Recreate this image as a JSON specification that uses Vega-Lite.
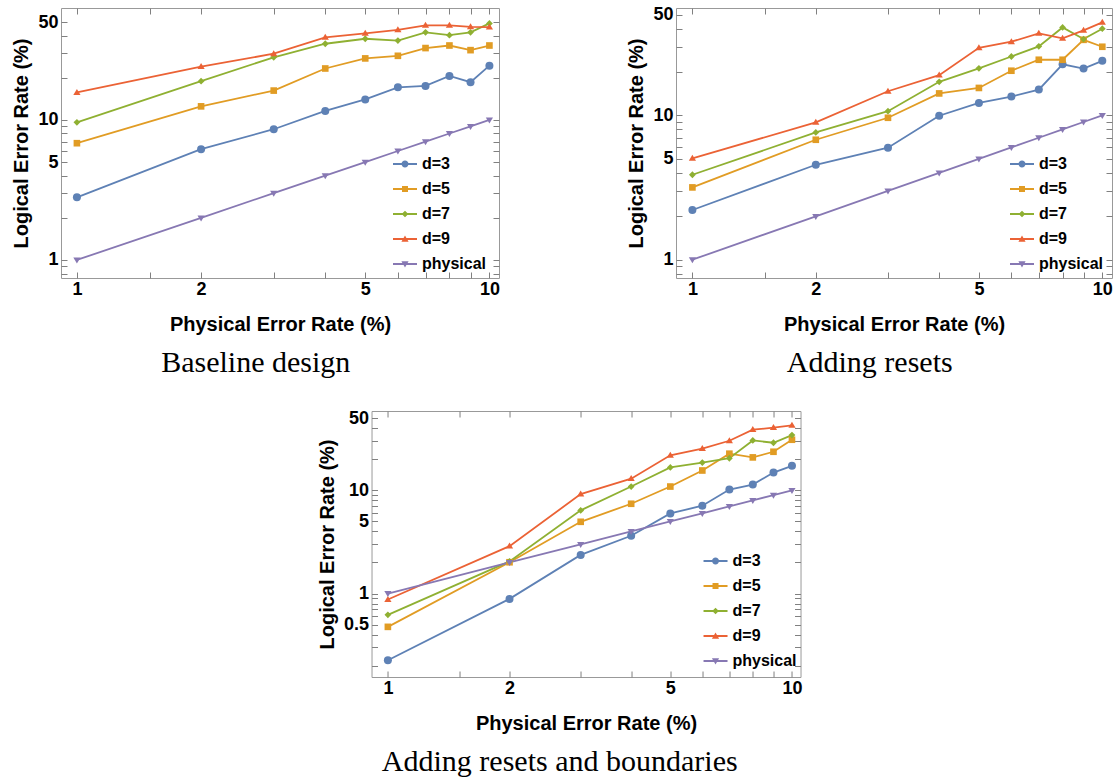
{
  "$schema": "https://vega.github.io/schema/vega-lite/v6.json",
  "background": "white",
  "padding": {"left": 11, "top": 5, "right": 5, "bottom": 0},
  "config": {
    "view": {"stroke": "#999999", "strokeWidth": 1},
    "axis": {"domain": false, "grid": false, "labelFont": "Liberation Sans", "labelFontWeight": "bold", "labelFontSize": 18, "labelColor": "#000000", "titleFont": "Liberation Sans", "titleFontWeight": "bold", "titleFontSize": 20, "titleColor": "#000000", "tickColor": "#808080", "tickWidth": 1, "tickSize": -6, "labelOverlap": false, "labelFlush": false},
    "legend": {"title": null, "orient": "none", "padding": 0, "labelFont": "Liberation Sans", "labelFontWeight": "bold", "labelFontSize": 16, "labelColor": "#000000", "symbolSize": 576, "labelOffset": 5, "rowPadding": 5},
    "title": {"orient": "bottom", "font": "Liberation Serif", "fontSize": 30, "fontWeight": "normal", "color": "#000000", "offset": 14, "anchor": "middle", "frame": "bounds"}
  },
  "datasets": {
    "p1": [
      {"p":1,"s":"d=3","v":2.8},{"p":2,"s":"d=3","v":6.18},{"p":3,"s":"d=3","v":8.58},{"p":4,"s":"d=3","v":11.6},{"p":5,"s":"d=3","v":14.0},{"p":6,"s":"d=3","v":17.1},{"p":7,"s":"d=3","v":17.5},{"p":8,"s":"d=3","v":20.6},{"p":9,"s":"d=3","v":18.6},{"p":10,"s":"d=3","v":24.4},
      {"p":1,"s":"d=5","v":6.82},{"p":2,"s":"d=5","v":12.5},{"p":3,"s":"d=5","v":16.2},{"p":4,"s":"d=5","v":23.3},{"p":5,"s":"d=5","v":27.5},{"p":6,"s":"d=5","v":28.7},{"p":7,"s":"d=5","v":32.6},{"p":8,"s":"d=5","v":34.0},{"p":9,"s":"d=5","v":31.5},{"p":10,"s":"d=5","v":34.0},
      {"p":1,"s":"d=7","v":9.62},{"p":2,"s":"d=7","v":18.9},{"p":3,"s":"d=7","v":28.0},{"p":4,"s":"d=7","v":35.0},{"p":5,"s":"d=7","v":38.0},{"p":6,"s":"d=7","v":36.9},{"p":7,"s":"d=7","v":42.2},{"p":8,"s":"d=7","v":40.3},{"p":9,"s":"d=7","v":42.2},{"p":10,"s":"d=7","v":48.9},
      {"p":1,"s":"d=9","v":15.7},{"p":2,"s":"d=9","v":24.0},{"p":3,"s":"d=9","v":29.7},{"p":4,"s":"d=9","v":38.8},{"p":5,"s":"d=9","v":41.5},{"p":6,"s":"d=9","v":44.0},{"p":7,"s":"d=9","v":47.3},{"p":8,"s":"d=9","v":47.3},{"p":9,"s":"d=9","v":46.2},{"p":10,"s":"d=9","v":46.0},
      {"p":1,"s":"physical","v":1},{"p":2,"s":"physical","v":2},{"p":3,"s":"physical","v":3},{"p":4,"s":"physical","v":4},{"p":5,"s":"physical","v":5},{"p":6,"s":"physical","v":6},{"p":7,"s":"physical","v":7},{"p":8,"s":"physical","v":8},{"p":9,"s":"physical","v":9},{"p":10,"s":"physical","v":10}
    ],
    "p2": [
      {"p":1,"s":"d=3","v":2.21},{"p":2,"s":"d=3","v":4.55},{"p":3,"s":"d=3","v":5.97},{"p":4,"s":"d=3","v":9.95},{"p":5,"s":"d=3","v":12.2},{"p":6,"s":"d=3","v":13.5},{"p":7,"s":"d=3","v":15.1},{"p":8,"s":"d=3","v":22.6},{"p":9,"s":"d=3","v":21.1},{"p":10,"s":"d=3","v":23.9},
      {"p":1,"s":"d=5","v":3.17},{"p":2,"s":"d=5","v":6.78},{"p":3,"s":"d=5","v":9.63},{"p":4,"s":"d=5","v":14.2},{"p":5,"s":"d=5","v":15.5},{"p":6,"s":"d=5","v":20.4},{"p":7,"s":"d=5","v":24.3},{"p":8,"s":"d=5","v":24.3},{"p":9,"s":"d=5","v":33.4},{"p":10,"s":"d=5","v":29.9},
      {"p":1,"s":"d=7","v":3.88},{"p":2,"s":"d=7","v":7.62},{"p":3,"s":"d=7","v":10.7},{"p":4,"s":"d=7","v":17.1},{"p":5,"s":"d=7","v":21.2},{"p":6,"s":"d=7","v":25.6},{"p":7,"s":"d=7","v":30.1},{"p":8,"s":"d=7","v":40.7},{"p":9,"s":"d=7","v":33.8},{"p":10,"s":"d=7","v":39.9},
      {"p":1,"s":"d=9","v":5.04},{"p":2,"s":"d=9","v":8.94},{"p":3,"s":"d=9","v":14.7},{"p":4,"s":"d=9","v":19.0},{"p":5,"s":"d=9","v":29.4},{"p":6,"s":"d=9","v":32.4},{"p":7,"s":"d=9","v":37.0},{"p":8,"s":"d=9","v":34.2},{"p":9,"s":"d=9","v":38.8},{"p":10,"s":"d=9","v":44.1},
      {"p":1,"s":"physical","v":1},{"p":2,"s":"physical","v":2},{"p":3,"s":"physical","v":3},{"p":4,"s":"physical","v":4},{"p":5,"s":"physical","v":5},{"p":6,"s":"physical","v":6},{"p":7,"s":"physical","v":7},{"p":8,"s":"physical","v":8},{"p":9,"s":"physical","v":9},{"p":10,"s":"physical","v":10}
    ],
    "p3": [
      {"p":1,"s":"d=3","v":0.225},{"p":2,"s":"d=3","v":0.887},{"p":3,"s":"d=3","v":2.37},{"p":4,"s":"d=3","v":3.63},{"p":5,"s":"d=3","v":5.98},{"p":6,"s":"d=3","v":7.10},{"p":7,"s":"d=3","v":10.2},{"p":8,"s":"d=3","v":11.4},{"p":9,"s":"d=3","v":14.9},{"p":10,"s":"d=3","v":17.3},
      {"p":1,"s":"d=5","v":0.475},{"p":2,"s":"d=5","v":2.01},{"p":3,"s":"d=5","v":4.96},{"p":4,"s":"d=5","v":7.42},{"p":5,"s":"d=5","v":10.9},{"p":6,"s":"d=5","v":15.6},{"p":7,"s":"d=5","v":22.7},{"p":8,"s":"d=5","v":20.9},{"p":9,"s":"d=5","v":23.7},{"p":10,"s":"d=5","v":31.0},
      {"p":1,"s":"d=7","v":0.621},{"p":2,"s":"d=7","v":2.05},{"p":3,"s":"d=7","v":6.4},{"p":4,"s":"d=7","v":10.9},{"p":5,"s":"d=7","v":16.7},{"p":6,"s":"d=7","v":18.6},{"p":7,"s":"d=7","v":20.5},{"p":8,"s":"d=7","v":30.5},{"p":9,"s":"d=7","v":29.0},{"p":10,"s":"d=7","v":34.4},
      {"p":1,"s":"d=9","v":0.875},{"p":2,"s":"d=9","v":2.88},{"p":3,"s":"d=9","v":9.2},{"p":4,"s":"d=9","v":13.0},{"p":5,"s":"d=9","v":21.9},{"p":6,"s":"d=9","v":25.4},{"p":7,"s":"d=9","v":30.3},{"p":8,"s":"d=9","v":38.8},{"p":9,"s":"d=9","v":40.6},{"p":10,"s":"d=9","v":42.8},
      {"p":1,"s":"physical","v":1},{"p":2,"s":"physical","v":2},{"p":3,"s":"physical","v":3},{"p":4,"s":"physical","v":4},{"p":5,"s":"physical","v":5},{"p":6,"s":"physical","v":6},{"p":7,"s":"physical","v":7},{"p":8,"s":"physical","v":8},{"p":9,"s":"physical","v":9},{"p":10,"s":"physical","v":10}
    ]
  },
  "vconcat": [
    {
      "hconcat": [
        {
          "width": 438, "height": 270,
          "data": {"name": "p1"},
          "title": {"text": "Baseline design"},
          "encoding": {
            "color": {"field": "s", "type": "nominal", "scale": {"domain": ["d=3","d=5","d=7","d=9","physical"], "range": ["#5E81B5","#E19C24","#8FB032","#EB6235","#8778B3"]},
              "legend": {"legendX": 332, "legendY": 144,
                "encode": {"symbols": {"update": {
                  "shape": {"signal": "datum.value === 'd=3' ? 'M-1,-0.075H-0.12V0.075H-1ZM0.12,-0.075H1V0.075H0.12ZM-0.29,0A0.29,0.29 0 1,1 0.29,0A0.29,0.29 0 1,1 -0.29,0Z' : datum.value === 'd=5' ? 'M-1,-0.075H-0.12V0.075H-1ZM0.12,-0.075H1V0.075H0.12ZM-0.25,-0.25H0.25V0.25H-0.25Z' : datum.value === 'd=7' ? 'M-1,-0.075H-0.12V0.075H-1ZM0.12,-0.075H1V0.075H0.12ZM0,-0.28L0.28,0L0,0.28L-0.28,0Z' : datum.value === 'd=9' ? 'M-1,-0.075H-0.12V0.075H-1ZM0.12,-0.075H1V0.075H0.12ZM0,-0.3L0.3,0.22L-0.3,0.22Z' : 'M-1,-0.075H-0.12V0.075H-1ZM0.12,-0.075H1V0.075H0.12ZM0,0.3L-0.3,-0.22L0.3,-0.22Z'"},
                  "strokeWidth": {"value": 0}, "opacity": {"value": 1}, "fillOpacity": {"value": 1}, "size": {"value": 576}
                }}}}
            }
          },
          "layer": [
            {"mark": {"type": "line", "strokeWidth": 1.8},
             "encoding": {
               "x": {"field": "p", "type": "quantitative", "scale": {"type": "log", "domain": [0.915, 10.55], "nice": false, "zero": false},
                 "axis": {"orient": "bottom", "values": [1,1.5,2,3,4,5,6,7,8,9,10], "format": "~g", "labelExpr": "indexof([1,2,5,10], datum.value) >= 0 ? datum.label : ''", "title": "Physical Error Rate (%)", "labelPadding": 8, "titlePadding": 16}},
               "y": {"field": "v", "type": "quantitative", "scale": {"type": "log", "domain": [0.743, 63], "nice": false, "zero": false},
                 "axis": {"orient": "left", "values": [0.8,0.9,1,2,3,4,5,6,7,8,9,10,20,30,40,50], "format": "~g", "labelExpr": "indexof([1,5,10,50], datum.value) >= 0 ? datum.label : ''", "title": "Logical Error Rate (%)", "labelPadding": 9, "titlePadding": 6}}
             }},
            {"mark": {"type": "point", "filled": true, "opacity": 1, "size": 64},
             "encoding": {
               "x": {"field": "p", "type": "quantitative", "scale": {"type": "log", "domain": [0.915, 10.55], "nice": false, "zero": false},
                 "axis": {"orient": "top", "values": [1,1.5,2,3,4,5,6,7,8,9,10], "labels": false, "title": null}},
               "y": {"field": "v", "type": "quantitative", "scale": {"type": "log", "domain": [0.743, 63], "nice": false, "zero": false},
                 "axis": {"orient": "right", "values": [0.8,0.9,1,2,3,4,5,6,7,8,9,10,20,30,40,50], "labels": false, "title": null}},
               "shape": {"field": "s", "type": "nominal", "scale": {"domain": ["physical","d=9","d=7","d=5","d=3"], "range": ["M0,0.9L0.9,-0.6L-0.9,-0.6Z","M0,-0.9L0.9,0.6L-0.9,0.6Z","M0,-0.85L0.85,0L0,0.85L-0.85,0Z","M-0.83,-0.83H0.83V0.83H-0.83Z","circle"]}, "legend": null}
             }}
          ],
          "resolve": {"axis": {"x": "independent", "y": "independent"}}
        },
        {
          "width": 436, "height": 270,
          "data": {"name": "p2"},
          "title": {"text": "Adding resets"},
          "encoding": {
            "color": {"field": "s", "type": "nominal", "scale": {"domain": ["d=3","d=5","d=7","d=9","physical"], "range": ["#5E81B5","#E19C24","#8FB032","#EB6235","#8778B3"]},
              "legend": {"legendX": 334, "legendY": 144,
                "encode": {"symbols": {"update": {
                  "shape": {"signal": "datum.value === 'd=3' ? 'M-1,-0.075H-0.12V0.075H-1ZM0.12,-0.075H1V0.075H0.12ZM-0.29,0A0.29,0.29 0 1,1 0.29,0A0.29,0.29 0 1,1 -0.29,0Z' : datum.value === 'd=5' ? 'M-1,-0.075H-0.12V0.075H-1ZM0.12,-0.075H1V0.075H0.12ZM-0.25,-0.25H0.25V0.25H-0.25Z' : datum.value === 'd=7' ? 'M-1,-0.075H-0.12V0.075H-1ZM0.12,-0.075H1V0.075H0.12ZM0,-0.28L0.28,0L0,0.28L-0.28,0Z' : datum.value === 'd=9' ? 'M-1,-0.075H-0.12V0.075H-1ZM0.12,-0.075H1V0.075H0.12ZM0,-0.3L0.3,0.22L-0.3,0.22Z' : 'M-1,-0.075H-0.12V0.075H-1ZM0.12,-0.075H1V0.075H0.12ZM0,0.3L-0.3,-0.22L0.3,-0.22Z'"},
                  "strokeWidth": {"value": 0}, "opacity": {"value": 1}, "fillOpacity": {"value": 1}, "size": {"value": 576}
                }}}}
            }
          },
          "layer": [
            {"mark": {"type": "line", "strokeWidth": 1.8},
             "encoding": {
               "x": {"field": "p", "type": "quantitative", "scale": {"type": "log", "domain": [0.912, 10.56], "nice": false, "zero": false},
                 "axis": {"orient": "bottom", "values": [1,1.5,2,3,4,5,6,7,8,9,10], "format": "~g", "labelExpr": "indexof([1,2,5,10], datum.value) >= 0 ? datum.label : ''", "title": "Physical Error Rate (%)", "labelPadding": 8, "titlePadding": 16}},
               "y": {"field": "v", "type": "quantitative", "scale": {"type": "log", "domain": [0.747, 55.5], "nice": false, "zero": false},
                 "axis": {"orient": "left", "values": [0.8,0.9,1,2,3,4,5,6,7,8,9,10,20,30,40,50], "format": "~g", "labelExpr": "indexof([1,5,10,50], datum.value) >= 0 ? datum.label : ''", "title": "Logical Error Rate (%)", "labelPadding": 9, "titlePadding": 6}}
             }},
            {"mark": {"type": "point", "filled": true, "opacity": 1, "size": 64},
             "encoding": {
               "x": {"field": "p", "type": "quantitative", "scale": {"type": "log", "domain": [0.912, 10.56], "nice": false, "zero": false},
                 "axis": {"orient": "top", "values": [1,1.5,2,3,4,5,6,7,8,9,10], "labels": false, "title": null}},
               "y": {"field": "v", "type": "quantitative", "scale": {"type": "log", "domain": [0.747, 55.5], "nice": false, "zero": false},
                 "axis": {"orient": "right", "values": [0.8,0.9,1,2,3,4,5,6,7,8,9,10,20,30,40,50], "labels": false, "title": null}},
               "shape": {"field": "s", "type": "nominal", "scale": {"domain": ["physical","d=9","d=7","d=5","d=3"], "range": ["M0,0.9L0.9,-0.6L-0.9,-0.6Z","M0,-0.9L0.9,0.6L-0.9,0.6Z","M0,-0.85L0.85,0L0,0.85L-0.85,0Z","M-0.83,-0.83H0.83V0.83H-0.83Z","circle"]}, "legend": null}
             }}
          ],
          "resolve": {"axis": {"x": "independent", "y": "independent"}}
        }
      ],
      "spacing": 126,
      "resolve": {"scale": {"color": "independent", "shape": "independent"}}
    },
    {
      "width": 429, "height": 266,
      "data": {"name": "p3"},
      "title": {"text": "Adding resets and boundaries"},
      "encoding": {
        "color": {"field": "s", "type": "nominal", "scale": {"domain": ["d=3","d=5","d=7","d=9","physical"], "range": ["#5E81B5","#E19C24","#8FB032","#EB6235","#8778B3"]},
          "legend": {"legendX": 332, "legendY": 138,
            "encode": {"symbols": {"update": {
              "shape": {"signal": "datum.value === 'd=3' ? 'M-1,-0.075H-0.12V0.075H-1ZM0.12,-0.075H1V0.075H0.12ZM-0.29,0A0.29,0.29 0 1,1 0.29,0A0.29,0.29 0 1,1 -0.29,0Z' : datum.value === 'd=5' ? 'M-1,-0.075H-0.12V0.075H-1ZM0.12,-0.075H1V0.075H0.12ZM-0.25,-0.25H0.25V0.25H-0.25Z' : datum.value === 'd=7' ? 'M-1,-0.075H-0.12V0.075H-1ZM0.12,-0.075H1V0.075H0.12ZM0,-0.28L0.28,0L0,0.28L-0.28,0Z' : datum.value === 'd=9' ? 'M-1,-0.075H-0.12V0.075H-1ZM0.12,-0.075H1V0.075H0.12ZM0,-0.3L0.3,0.22L-0.3,0.22Z' : 'M-1,-0.075H-0.12V0.075H-1ZM0.12,-0.075H1V0.075H0.12ZM0,0.3L-0.3,-0.22L0.3,-0.22Z'"},
              "strokeWidth": {"value": 0}, "opacity": {"value": 1}, "fillOpacity": {"value": 1}, "size": {"value": 576}
            }}}}
        }
      },
      "layer": [
        {"mark": {"type": "line", "strokeWidth": 1.8},
         "encoding": {
           "x": {"field": "p", "type": "quantitative", "scale": {"type": "log", "domain": [0.911, 10.5], "nice": false, "zero": false},
             "axis": {"orient": "bottom", "values": [1,1.5,2,3,4,5,6,7,8,9,10], "format": "~g", "labelExpr": "indexof([1,2,5,10], datum.value) >= 0 ? datum.label : ''", "title": "Physical Error Rate (%)", "labelPadding": 8, "titlePadding": 16}},
           "y": {"field": "v", "type": "quantitative", "scale": {"type": "log", "domain": [0.155, 58.9], "nice": false, "zero": false},
             "axis": {"orient": "left", "values": [0.2,0.3,0.4,0.5,0.6,0.7,0.8,0.9,1,2,3,4,5,6,7,8,9,10,20,30,40,50], "format": "~g", "labelExpr": "indexof([0.5,1,5,10,50], datum.value) >= 0 ? datum.label : ''", "title": "Logical Error Rate (%)", "labelPadding": 9, "titlePadding": 6}}
         }},
        {"mark": {"type": "point", "filled": true, "opacity": 1, "size": 64},
         "encoding": {
           "x": {"field": "p", "type": "quantitative", "scale": {"type": "log", "domain": [0.911, 10.5], "nice": false, "zero": false},
             "axis": {"orient": "top", "values": [1,1.5,2,3,4,5,6,7,8,9,10], "labels": false, "title": null}},
           "y": {"field": "v", "type": "quantitative", "scale": {"type": "log", "domain": [0.155, 58.9], "nice": false, "zero": false},
             "axis": {"orient": "right", "values": [0.2,0.3,0.4,0.5,0.6,0.7,0.8,0.9,1,2,3,4,5,6,7,8,9,10,20,30,40,50], "labels": false, "title": null}},
           "shape": {"field": "s", "type": "nominal", "scale": {"domain": ["physical","d=9","d=7","d=5","d=3"], "range": ["M0,0.9L0.9,-0.6L-0.9,-0.6Z","M0,-0.9L0.9,0.6L-0.9,0.6Z","M0,-0.85L0.85,0L0,0.85L-0.85,0Z","M-0.83,-0.83H0.83V0.83H-0.83Z","circle"]}, "legend": null}
         }}
      ],
      "resolve": {"axis": {"x": "independent", "y": "independent"}}
    }
  ],
  "spacing": 29,
  "center": true,
  "resolve": {"scale": {"color": "independent", "shape": "independent"}}
}
